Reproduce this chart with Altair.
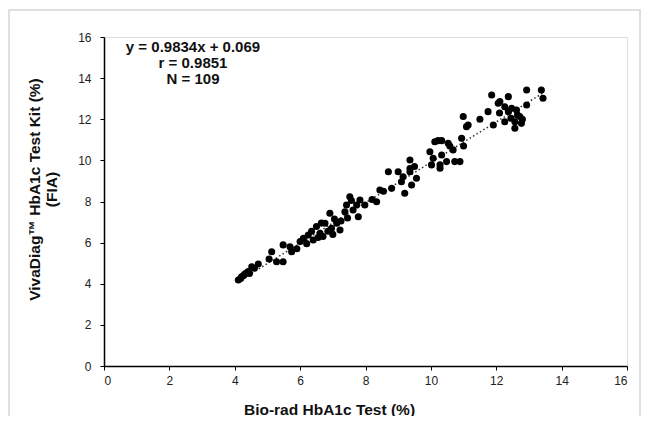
import altair as alt
import pandas as pd

# Bio-rad HbA1c (%) values (x) and VivaDiag HbA1c (%) values (y)
biorad = [
    4.11, 4.18, 4.21, 4.27, 4.31, 4.36, 4.41, 4.45, 4.52, 4.72,
    5.13, 5.28, 5.48, 5.48, 5.69, 5.74, 6.10, 6.25, 6.40, 6.50,
    6.61, 6.76, 6.91, 6.96, 7.12, 7.22, 7.37, 7.52, 7.62, 7.73,
    7.78, 7.42, 7.57, 7.83, 7.98, 8.34, 8.44, 8.70, 8.80, 9.00,
    9.10, 9.20, 9.36, 9.36, 9.41, 9.56, 10.99, 11.09, 10.94, 10.12,
    10.33, 10.53, 10.68, 9.97, 10.07, 10.33, 10.28, 10.48, 10.73, 10.89,
    10.02, 9.36, 10.28, 11.86, 12.11, 12.26, 12.37, 11.75, 11.50, 11.14,
    11.91, 12.26, 12.93, 13.38, 13.43, 12.93, 12.37, 12.06, 12.47, 12.62,
    12.72, 12.57, 12.77, 12.57, 10.22, 10.58, 6.20, 6.35, 6.55, 6.70,
    6.85, 7.05, 7.25, 7.00, 5.90, 6.00, 6.65, 8.20, 8.55, 9.15,
    9.50, 11.00, 12.65, 12.80, 12.10, 7.45, 4.60, 5.05, 12.45,
]
vivadiag = [
    4.18, 4.26, 4.34, 4.40, 4.47, 4.52, 4.59, 4.50, 4.83, 4.96,
    5.56, 5.07, 5.07, 5.89, 5.80, 5.56, 6.21, 6.37, 6.13, 6.78,
    6.45, 6.94, 7.43, 6.70, 6.94, 6.61, 7.50, 8.23, 7.59, 7.83,
    7.26, 7.83, 8.05, 8.07, 7.83, 7.99, 8.56, 9.45, 8.64, 9.45,
    8.96, 8.40, 9.45, 10.02, 8.80, 9.13, 12.13, 11.64, 11.07, 10.91,
    10.96, 10.83, 10.51, 10.42, 10.10, 10.26, 9.78, 9.94, 9.94, 9.94,
    9.78, 9.60, 9.62, 13.18, 12.86, 12.61, 12.37, 12.37, 12.00, 11.72,
    11.72, 11.88, 13.42, 13.42, 13.02, 12.69, 13.10, 12.78, 12.53, 12.45,
    12.13, 11.88, 11.80, 11.56, 10.96, 10.70, 5.95, 6.55, 6.25, 6.30,
    6.55, 7.15, 7.05, 6.40, 5.70, 6.05, 6.95, 8.10, 8.50, 9.20,
    9.70, 10.70, 12.20, 12.00, 12.30, 7.20, 4.75, 5.20, 12.05,
]

slope = 0.9834
intercept = 0.069
stats_lines = ["y = 0.9834x + 0.069", "r = 0.9851", "N = 109"]
ticks = [0, 2, 4, 6, 8, 10, 12, 14, 16]

x_title = "Bio-rad HbA1c Test (%)"
y_title = ["VivaDiag™ HbA1c Test Kit (%)", "(FIA)"]

df = pd.DataFrame({"biorad": biorad, "vivadiag": vivadiag})
fit_x = [min(biorad), max(biorad)]
fit = pd.DataFrame({"biorad": fit_x, "vivadiag": [slope * v + intercept for v in fit_x]})

FONT = "Liberation Sans"

xscale = alt.Scale(domain=[0, 16], nice=False, zero=False)
yscale = alt.Scale(domain=[0, 16], nice=False, zero=False)

xaxis = alt.Axis(
    values=ticks, title=x_title, grid=False, domainColor="black", domainWidth=1.5,
    tickColor="black", tickSize=4, tickWidth=1, labelPadding=5, labelFontSize=12,
    labelColor="#222", labelFont=FONT, titleFont=FONT, titleFontSize=15.5,
    titleFontWeight="bold", titleColor="#111", titleX=225, titleY=43,
    titleAlign="center", titleBaseline="middle",
)
yaxis = alt.Axis(
    values=ticks, title=y_title, grid=False, domainColor="black", domainWidth=1.5,
    tickColor="black", tickSize=4, tickWidth=1, labelPadding=9, labelFontSize=12,
    labelColor="#222", labelFont=FONT, titleFont=FONT, titleFontSize=15.5,
    titleFontWeight="bold", titleColor="#111", titleX=-70, titleY=152,
    titleAlign="center", titleBaseline="middle", titleAngle=270, titleLineHeight=17,
)

frame = alt.Chart(pd.DataFrame({"f": [0]})).mark_rect(
    fillOpacity=0, stroke="#d6d6d6", strokeWidth=1.5
).encode(x=alt.value(-95), x2=alt.value(536), y=alt.value(-27), y2=alt.value(420))

points = alt.Chart(df).mark_circle(size=50, color="black", opacity=1).encode(
    x=alt.X("biorad:Q", scale=xscale, axis=xaxis),
    y=alt.Y("vivadiag:Q", scale=yscale, axis=yaxis),
)

line = alt.Chart(fit).mark_line(color="#333", strokeDash=[1.5, 2.5], strokeWidth=1.5).encode(
    x=alt.X("biorad:Q", scale=xscale),
    y=alt.Y("vivadiag:Q", scale=yscale),
)

stats = alt.Chart(pd.DataFrame({"t": [stats_lines]})).mark_text(
    font=FONT, fontSize=15, fontWeight="bold", align="center", baseline="top",
    lineHeight=16, color="#111",
).encode(text="t:N", x=alt.value(89), y=alt.value(3))

chart = alt.layer(frame, line, points, stats).properties(
    width=523, height=329,
    autosize=alt.AutoSizeParams(type="none"),
    padding={"left": 96, "top": 29, "right": 14, "bottom": 50},
).configure_view(stroke=None).configure(background="white")

chart.save("out.html", embed_options={"renderer": "svg", "actions": False})
